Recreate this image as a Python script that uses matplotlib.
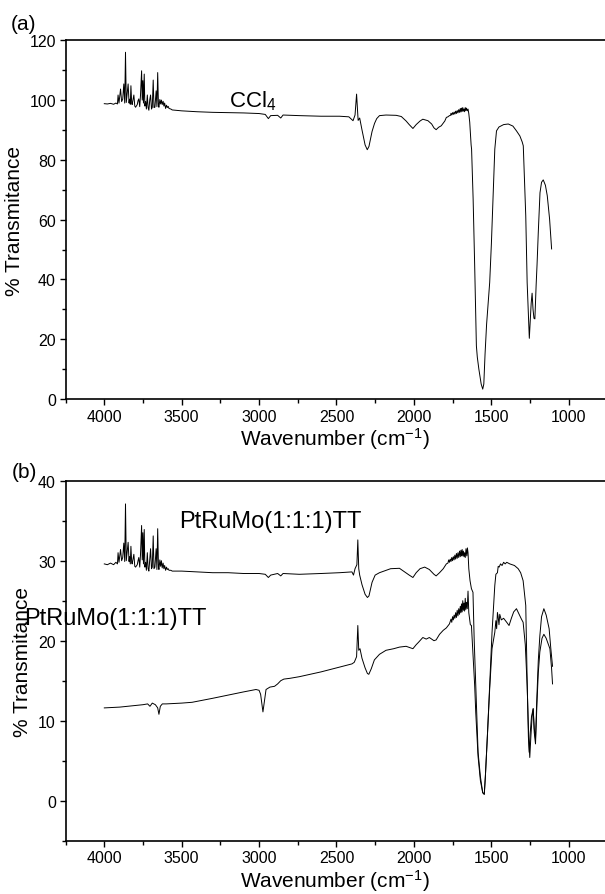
#!/usr/bin/env python3
"""FTIR transmittance spectra: (a) CCl4 background, (b) PtRuMo(1:1:1)TT."""
import matplotlib
matplotlib.use("Agg")
import matplotlib.pyplot as plt
from matplotlib.ticker import MultipleLocator

plt.rcParams["font.family"] = ["Liberation Sans", "DejaVu Sans"]
plt.rcParams["mathtext.fontset"] = "custom"
plt.rcParams["mathtext.rm"] = "Liberation Sans"
plt.rcParams["mathtext.it"] = "Liberation Sans:italic"

# ---- panel (a): CCl4 -------------------------------------------------------
WN_A = [
  4000, 3980, 3960, 3940, 3925, 3915, 3911, 3905, 3895, 3888, 3881, 3874, 3868,
  3863, 3858, 3846, 3840, 3837, 3832, 3828, 3823, 3820, 3809, 3803, 3798, 3787,
  3782, 3777, 3771, 3766, 3759, 3755, 3751, 3747, 3742, 3738, 3733, 3728, 3722,
  3717, 3712, 3706, 3701, 3695, 3690, 3684, 3679, 3673, 3665, 3660, 3655, 3650,
  3647, 3641, 3636, 3631, 3626, 3620, 3615, 3610, 3604, 3598, 3593, 3587, 3582,
  3570, 3561, 3500, 3400, 3300, 3200, 3100, 3000, 2960, 2940, 2925, 2880, 2860,
  2845, 2740, 2600, 2480, 2420, 2393, 2380, 2370, 2364, 2360, 2350, 2335, 2315,
  2301, 2290, 2270, 2254, 2240, 2222, 2180, 2114, 2081, 2050, 2030, 2006, 1985,
  1960, 1942, 1909, 1885, 1870, 1856, 1840, 1823, 1800, 1790, 1780, 1770, 1763,
  1760, 1755, 1750, 1745, 1740, 1735, 1730, 1725, 1720, 1715, 1710, 1705, 1700,
  1696, 1692, 1688, 1684, 1680, 1676, 1672, 1668, 1664, 1660, 1655, 1650, 1645,
  1639, 1630, 1627, 1617, 1607, 1596, 1590, 1580, 1565, 1555, 1548, 1540, 1530,
  1510, 1499, 1488, 1477, 1466, 1450, 1420, 1390, 1360, 1337, 1315, 1300, 1293,
  1277, 1268, 1260, 1254, 1248, 1242, 1236, 1230, 1224, 1218, 1210, 1204, 1196,
  1185, 1175, 1164, 1150, 1138, 1123, 1110,
]
T_A = [
  98.8, 98.7, 98.9, 98.6, 99.0, 98.7, 101.7, 99.0, 103.7, 99.5, 100.3, 105.4, 99.0,
  116.0, 99.2, 105.4, 99.0, 100.3, 98.6, 104.8, 99.0, 98.5, 101.7, 98.0, 97.6, 98.5,
  99.8, 100.4, 97.8, 101.7, 109.8, 100.0, 106.5, 99.0, 108.7, 98.0, 99.5, 97.0, 101.7,
  97.5, 96.6, 100.2, 101.7, 97.0, 97.6, 106.7, 97.5, 97.6, 103.1, 97.8, 109.2, 98.0,
  97.6, 100.2, 98.7, 100.0, 98.5, 99.6, 98.0, 99.0, 97.2, 98.3, 97.5, 97.9, 97.2,
  97.0, 96.7, 96.4, 96.1, 95.9, 95.8, 95.7, 95.5, 95.2, 93.8, 94.8, 94.9, 94.0,
  95.0, 94.8, 94.6, 94.6, 94.4, 93.1, 95.0, 102.0, 97.0, 93.2, 94.0, 90.0, 85.0,
  83.4, 84.5, 89.5, 92.2, 93.8, 94.8, 95.0, 94.9, 94.5, 93.0, 91.8, 90.5, 91.8,
  93.0, 93.6, 93.1, 92.0, 90.7, 90.1, 90.9, 91.4, 93.0, 94.2, 94.4, 94.8, 94.9,
  95.6, 95.0, 95.8, 95.2, 96.0, 95.3, 96.3, 95.5, 96.5, 95.7, 96.8, 95.9, 97.2,
  96.0, 97.3, 96.2, 97.5, 96.3, 97.0, 96.1, 97.5, 96.5, 97.3, 96.4, 97.0, 95.5,
  92.6, 85.0, 83.6, 66.9, 44.6, 17.8, 14.0, 10.0, 5.0, 3.3, 5.0, 15.0, 25.0,
  39.0, 52.0, 68.0, 83.6, 89.7, 91.0, 91.8, 92.0, 91.3, 89.7, 88.0, 86.0, 84.7,
  61.3, 39.0, 28.0, 20.3, 26.0, 32.0, 35.4, 30.0, 27.0, 26.8, 38.0, 45.0, 55.8,
  69.0, 72.5, 73.3, 71.5, 68.0, 60.2, 50.2,
]

# ---- panel (b): PtRuMo(1:1:1)TT, upper trace --------------------------------
WN_B1 = [
  4000, 3980, 3960, 3940, 3925, 3915, 3911, 3905, 3895, 3888, 3881, 3874, 3868,
  3863, 3858, 3846, 3840, 3837, 3832, 3828, 3823, 3820, 3809, 3803, 3798, 3787,
  3782, 3777, 3771, 3766, 3759, 3755, 3751, 3747, 3742, 3738, 3733, 3728, 3722,
  3717, 3712, 3706, 3701, 3695, 3690, 3684, 3679, 3673, 3665, 3660, 3655, 3650,
  3647, 3641, 3636, 3631, 3626, 3620, 3615, 3610, 3604, 3598, 3593, 3587, 3582,
  3570, 3561, 3500, 3400, 3300, 3200, 3100, 3000, 2960, 2940, 2925, 2880, 2860,
  2845, 2740, 2600, 2480, 2400, 2390, 2380, 2368, 2362, 2356, 2350, 2335, 2315,
  2300, 2290, 2270, 2250, 2222, 2150, 2093, 2060, 2030, 2006, 1985, 1960, 1930,
  1900, 1870, 1856, 1834, 1810, 1790, 1780, 1775, 1770, 1765, 1760, 1755, 1750,
  1745, 1740, 1735, 1730, 1725, 1720, 1715, 1710, 1705, 1700, 1696, 1692, 1688,
  1684, 1680, 1676, 1672, 1668, 1663, 1658, 1654, 1650, 1645, 1637, 1628, 1618,
  1610, 1600, 1585, 1570, 1555, 1545, 1538, 1525, 1510, 1495, 1477, 1470, 1460,
  1455, 1449, 1440, 1430, 1420, 1410, 1400, 1380, 1350, 1326, 1310, 1294, 1277,
  1268, 1260, 1255, 1248, 1240, 1229, 1222, 1214, 1205, 1196, 1186, 1175, 1160,
  1145, 1126, 1115, 1104,
]
T_B1 = [
  29.6, 29.5, 29.7, 29.5, 29.8, 29.6, 31.0, 29.8, 31.4, 30.0, 30.4, 32.2, 29.9,
  37.1, 30.0, 32.3, 29.9, 30.5, 29.6, 31.8, 29.8, 29.6, 30.8, 29.3, 29.2, 29.5,
  30.0, 30.4, 29.2, 30.8, 34.4, 30.1, 33.5, 29.6, 33.9, 29.2, 29.8, 28.8, 31.0,
  29.0, 28.7, 30.2, 31.5, 29.0, 29.2, 33.1, 29.0, 29.2, 31.5, 28.9, 34.0, 29.2,
  28.9, 30.1, 29.3, 30.0, 29.1, 29.7, 29.0, 29.4, 28.8, 29.2, 28.9, 29.0, 28.8,
  28.8, 28.7, 28.7, 28.6, 28.5, 28.5, 28.4, 28.4, 28.3, 27.9, 28.2, 28.4, 28.1,
  28.4, 28.3, 28.4, 28.5, 28.6, 28.2, 29.0, 29.5, 32.6, 29.0, 28.2, 27.0, 25.8,
  25.4, 25.6, 27.3, 28.2, 28.5, 29.0, 29.05, 28.6, 28.2, 27.9, 28.5, 29.0, 29.2,
  28.9, 28.3, 28.1, 28.5, 29.0, 29.6, 29.7, 30.1, 29.8, 30.2, 29.9, 30.4, 30.0,
  30.5, 30.1, 30.7, 30.2, 30.9, 30.3, 31.0, 30.4, 31.2, 30.5, 31.3, 30.6, 31.4,
  30.6, 31.2, 30.5, 31.0, 30.4, 31.5, 30.6, 31.6, 31.0, 29.0, 27.5, 26.5, 26.05,
  20.0, 14.4, 6.05, 3.0, 1.0, 0.8, 3.0, 8.0, 14.4, 21.0, 26.9, 28.3, 28.5,
  29.3, 29.2, 29.6, 29.4, 29.8, 29.6, 29.8, 29.6, 29.4, 29.0, 28.5, 27.5, 24.4,
  15.0, 8.0, 6.05, 8.5, 10.5, 11.5, 9.0, 7.7, 13.0, 17.5, 20.6, 23.0, 24.0,
  23.2, 21.5, 19.0, 16.8,
]

# ---- panel (b): PtRuMo(1:1:1)TT, lower trace --------------------------------
WN_B2 = [
  4000, 3900, 3800, 3750, 3720, 3705, 3690, 3670, 3655, 3647, 3638, 3625, 3600,
  3500, 3433, 3300, 3200, 3100, 3020, 3000, 2990, 2975, 2965, 2955, 2930, 2900,
  2880, 2860, 2840, 2800, 2740, 2600, 2500, 2400, 2385, 2370, 2362, 2356, 2348,
  2335, 2315, 2300, 2291, 2275, 2255, 2222, 2180, 2130, 2093, 2050, 2020, 2006,
  1985, 1970, 1942, 1920, 1900, 1870, 1856, 1834, 1810, 1790, 1770, 1760, 1755,
  1750, 1745, 1740, 1735, 1730, 1725, 1720, 1715, 1710, 1705, 1700, 1696, 1692,
  1688, 1684, 1680, 1676, 1672, 1668, 1664, 1660, 1655, 1650, 1645, 1635, 1628,
  1620, 1607, 1600, 1585, 1570, 1555, 1545, 1538, 1525, 1510, 1495, 1477, 1470,
  1465, 1460, 1456, 1450, 1445, 1435, 1420, 1400, 1385, 1370, 1355, 1337, 1320,
  1305, 1294, 1280, 1268, 1258, 1251, 1244, 1236, 1229, 1222, 1214, 1205, 1196,
  1186, 1172, 1160, 1145, 1121, 1110, 1104,
]
T_B2 = [
  11.6, 11.7, 11.9, 12.0, 12.1, 11.8, 12.2, 12.0, 11.6, 10.8, 11.8, 12.1, 12.1,
  12.2, 12.3, 12.8, 13.2, 13.6, 13.9, 13.8, 13.3, 11.1, 12.5, 13.9, 14.2, 14.3,
  14.6, 15.0, 15.2, 15.3, 15.5, 16.1, 16.6, 17.1, 17.3, 18.0, 21.9, 18.8, 19.0,
  17.8, 16.6, 15.9, 15.8, 16.5, 17.6, 18.3, 18.8, 19.0, 19.2, 19.3, 19.1, 19.0,
  19.5, 19.8, 20.4, 20.2, 20.4, 20.0, 20.1, 20.8, 21.3, 21.6, 22.1, 22.7, 22.3,
  23.0, 22.6, 23.2, 22.8, 23.5, 22.9, 23.8, 23.1, 24.0, 23.3, 24.3, 23.5, 24.6,
  23.6, 25.0, 23.8, 24.7, 23.7, 25.3, 23.9, 24.8, 24.0, 26.2, 23.5, 22.0, 21.9,
  19.0, 14.4, 11.0, 5.5, 2.5, 1.0, 0.8, 3.0, 8.0, 14.0, 19.0, 21.05, 22.5,
  21.5, 23.5, 23.1, 22.0, 23.3, 22.6, 22.8, 22.3, 21.9, 22.8, 23.6, 24.0, 23.3,
  22.7, 22.3, 19.5, 14.4, 8.0, 5.4, 8.0, 10.5, 11.5, 8.5, 7.1, 12.0, 16.0,
  18.6, 20.3, 20.8, 20.3, 19.0, 16.5, 14.6,
]

X_LIM = (4250, 765)
X_TICKS = [4000, 3500, 3000, 2500, 2000, 1500, 1000]
YLIM_A = (0, 120)
YTICKS_A = [0, 20, 40, 60, 80, 100, 120]
YLIM_B = (-5, 40)
YTICKS_B = [0, 10, 20, 30, 40]

W, H = 605, 895
fig = plt.figure(figsize=(W / 100, H / 100), dpi=100)


def panel_axes(top_px, bottom_px):
  left = 65.6 / W
  return fig.add_axes([left, 1 - bottom_px / H, 1.0 - left, (bottom_px - top_px) / H])


def style_axis(ax, ylim, yticks, yminor):
  ax.set_xlim(*X_LIM)
  ax.set_ylim(*ylim)
  ax.set_xticks(X_TICKS)
  ax.set_yticks(yticks)
  ax.xaxis.set_minor_locator(MultipleLocator(250))
  ax.yaxis.set_minor_locator(MultipleLocator(yminor))
  ax.spines["right"].set_visible(False)
  for side in ("left", "top", "bottom"):
    ax.spines[side].set_linewidth(1.2)
  ax.tick_params(which="both", direction="out", width=1.0, labelsize=11.5,
                 top=False, right=False)
  ax.tick_params(which="major", length=4.5, pad=2.5)
  ax.tick_params(which="minor", length=2.8)
  ax.set_xlabel("Wavenumber (cm$^{-1}$)", fontsize=15, labelpad=1)
  ax.set_ylabel("% Transmitance", fontsize=15, labelpad=4)


ax_a = panel_axes(41.3, 400.0)
ax_a.plot(WN_A, T_A, color="black", linewidth=0.7)
style_axis(ax_a, YLIM_A, YTICKS_A, 10)
ax_a.text(3194, 100, "CCl$_4$", fontsize=16, ha="left", va="center")
fig.text(24 / W, 1 - 25 / H, "(a)", fontsize=15, ha="center", va="center")

ax_b = panel_axes(481.7, 841.7)
ax_b.plot(WN_B1, T_B1, color="black", linewidth=0.7)
ax_b.plot(WN_B2, T_B2, color="black", linewidth=0.7)
style_axis(ax_b, YLIM_B, YTICKS_B, 5)
ax_b.text(3517, 35.0, "PtRuMo(1:1:1)TT", fontsize=17, ha="left", va="center")
ax_b.text(4515, 22.8, "PtRuMo(1:1:1)TT", fontsize=17, ha="left", va="center")
fig.text(24 / W, 1 - 473 / H, "(b)", fontsize=15, ha="center", va="center")

fig.savefig("out.png", dpi=100)
